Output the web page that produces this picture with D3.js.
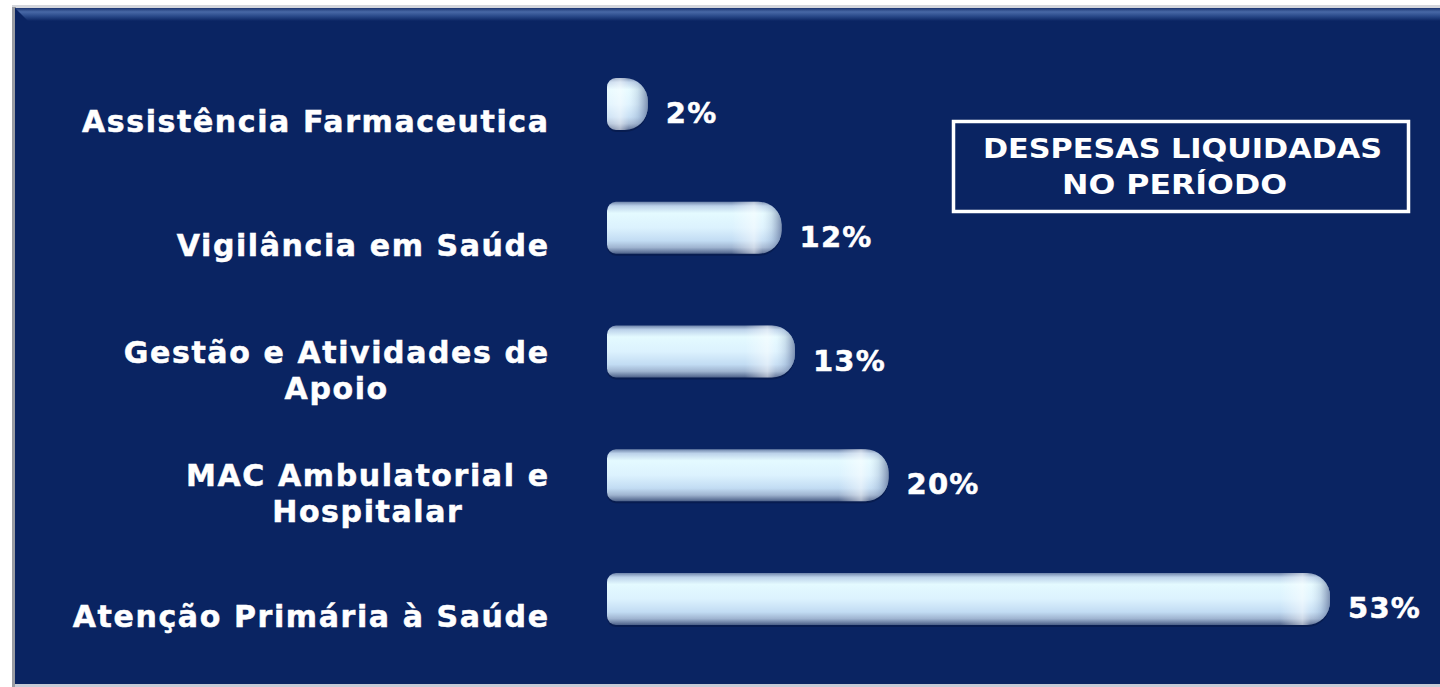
<!DOCTYPE html>
<html>
<head>
<meta charset="utf-8">
<script src="https://cdn.jsdelivr.net/npm/d3@7"></script>
<style>
  html, body { margin: 0; padding: 0; background: #ffffff; overflow: hidden; }
  svg { display: block; }
  text { font-family: "DejaVu Sans", Verdana, sans-serif; font-weight: bold; fill: #ffffff; }
  .lbl { stroke: #ffffff; stroke-width: 0.5px; }
</style>
</head>
<body>
<svg id="chart" width="1440" height="687"></svg>
<script>
// ---- data ----
const categories = [
  "Assistência Farmaceutica",
  "Vigilância em Saúde",
  "Gestão e Atividades de|Apoio",
  "MAC Ambulatorial e|Hospitalar",
  "Atenção Primária à Saúde"
];
const values = [2, 12, 13, 20, 53];
const valueLabels = ["2%", "12%", "13%", "20%", "53%"];
const titleLines = ["DESPESAS LIQUIDADAS", "NO PERÍODO"];

// ---- layout ----
const W = 1440, H = 687;
const svg = d3.select("#chart");
const defs = svg.append("defs");

// panel background
const bg = defs.append("linearGradient").attr("id", "topBevel")
  .attr("x1", 0).attr("y1", 0).attr("x2", 0).attr("y2", 1);
bg.append("stop").attr("offset", "0%").attr("stop-color", "#1a3470");
bg.append("stop").attr("offset", "30%").attr("stop-color", "#4868a6");
bg.append("stop").attr("offset", "60%").attr("stop-color", "#2c4c8c");
bg.append("stop").attr("offset", "100%").attr("stop-color", "#0a2462");

svg.append("rect").attr("x", 0).attr("y", 0).attr("width", W).attr("height", H).attr("fill", "#ffffff");
svg.append("rect").attr("x", 12).attr("y", 5).attr("width", W - 12).attr("height", 3).attr("fill", "#d4d6dc");
svg.append("rect").attr("x", 12).attr("y", 7).attr("width", 4).attr("height", H - 7).attr("fill", "#9a9ca2");
svg.append("rect").attr("x", 15).attr("y", 8).attr("width", W - 15).attr("height", 676).attr("fill", "#0a2462");
svg.append("path")
  .attr("d", `M15,8 L${W},8 L${W},21 L28,21 Z`)
  .attr("fill", "url(#topBevel)");
svg.append("rect").attr("x", 15).attr("y", 684).attr("width", W - 15).attr("height", 3).attr("fill", "#c8ccd6");

// scales
const x = d3.scaleLinear().domain([0, 53]).range([607, 1316]);
const y = d3.scalePoint().domain(categories).range([104, 599]);
const barH = 52;
const capExt = 14;

// bar gradients
const vg = defs.append("linearGradient").attr("id", "barV")
  .attr("x1", 0).attr("y1", 0).attr("x2", 0).attr("y2", 1);
[["0%", "#6e84aa"], ["8%", "#bcd2ea"], ["22%", "#e4faff"], ["50%", "#dcf2fe"],
 ["75%", "#c2dcf3"], ["88%", "#9fb4d0"], ["100%", "#4c6088"]].forEach(s =>
  vg.append("stop").attr("offset", s[0]).attr("stop-color", s[1]));

function barPath(x0, xe, yc) {
  const y0 = yc - barH / 2, y1 = yc + barH / 2;
  const rl = 9, rr = 23;
  return `M${x0},${y0 + rl} A${rl},${rl} 0 0 1 ${x0 + rl},${y0}
    L${xe - rr},${y0} A${rr},${rr} 0 0 1 ${xe},${y0 + rr}
    L${xe},${y1 - rr} A${rr},${rr} 0 0 1 ${xe - rr},${y1}
    L${x0 + rl},${y1} A${rl},${rl} 0 0 1 ${x0},${y1 - rl} Z`;
}

const data = categories.map((c, i) => ({ c, v: values[i], lab: valueLabels[i], i }));

data.forEach(d => {
  const xe = x(d.v) + capExt;
  const g = defs.append("linearGradient").attr("id", "cap" + d.i)
    .attr("gradientUnits", "userSpaceOnUse")
    .attr("x1", xe - 50).attr("y1", 0).attr("x2", xe).attr("y2", 0);
  [["0%", "#ffffff", 0], ["45%", "#ffffff", 0.5], ["62%", "#ffffff", 0.12],
   ["80%", "#6d80a6", 0.2], ["100%", "#3e5080", 0.6]].forEach(s =>
    g.append("stop").attr("offset", s[0]).attr("stop-color", s[1]).attr("stop-opacity", s[2]));
});

const bars = svg.append("g").selectAll("g").data(data).join("g");
bars.append("path")
  .attr("d", d => barPath(x(0), x(d.v) + capExt, y(d.c) + 2))
  .attr("fill", "#020f30").attr("opacity", 0.35);
bars.append("path")
  .attr("d", d => barPath(x(0), x(d.v) + capExt, y(d.c)))
  .attr("fill", "url(#barV)");
bars.append("path")
  .attr("d", d => barPath(x(0), x(d.v) + capExt, y(d.c)))
  .attr("fill", d => `url(#cap${d.i})`);

// value labels
svg.append("g").selectAll("text").data(data).join("text")
  .attr("class", "lbl")
  .attr("x", d => x(d.v) + capExt + 18)
  .attr("y", d => y(d.c) + 19)
  .attr("font-size", 29)
  .attr("letter-spacing", 1.2)
  .text(d => d.lab);

// category labels
const labelRight = 548;
const LS = 1.6;
const catG = svg.append("g");
data.forEach(d => {
  const lines = d.c.split("|");
  const t = catG.append("text")
    .attr("class", "lbl")
    .attr("font-size", 30)
    .attr("letter-spacing", LS);
  const yc = y(d.c);
  if (lines.length === 1) {
    t.attr("text-anchor", "end").attr("x", labelRight + LS).attr("y", yc + 28).text(lines[0]);
  } else {
    // measure widest line, then center lines within the right-aligned block
    const widths = lines.map(l => {
      const m = catG.append("text").attr("font-size", 30).attr("letter-spacing", LS).text(l);
      const w = m.node().getComputedTextLength();
      m.remove();
      return w;
    });
    const maxW = d3.max(widths);
    const cx = labelRight + LS - maxW / 2;
    t.attr("text-anchor", "middle");
    lines.forEach((l, k) => {
      t.append("tspan").attr("x", cx).attr("y", yc + 11 + k * 36).text(l);
    });
  }
});

// title box
svg.append("rect")
  .attr("x", 953.5).attr("y", 121.5).attr("width", 455).attr("height", 90)
  .attr("fill", "none").attr("stroke", "#ffffff").attr("stroke-width", 3.5);
const tb = svg.append("g");
tb.append("text").attr("x", 983).attr("y", 158)
  .attr("textLength", 399).attr("lengthAdjust", "spacingAndGlyphs")
  .attr("font-size", 26).text(titleLines[0]);
tb.append("text").attr("x", 1062).attr("y", 194)
  .attr("textLength", 225).attr("lengthAdjust", "spacingAndGlyphs")
  .attr("font-size", 26).text(titleLines[1]);
</script>
</body>
</html>
